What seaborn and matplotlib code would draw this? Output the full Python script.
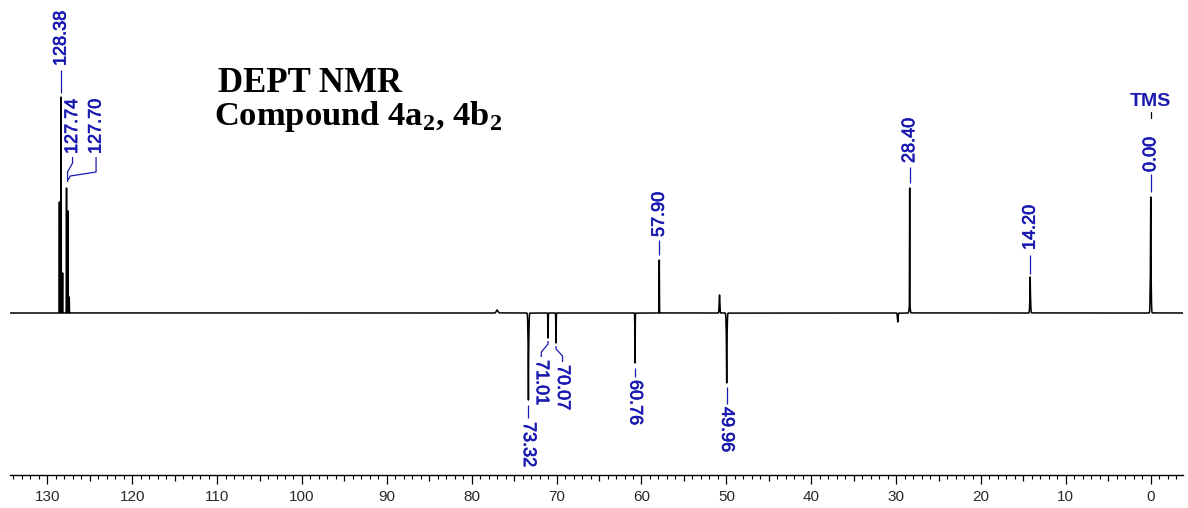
import numpy as np
import pandas as pd
import matplotlib
matplotlib.use("Agg")
import matplotlib.pyplot as plt
import matplotlib.patheffects as pe
import seaborn as sns
from matplotlib.ticker import MultipleLocator, FuncFormatter

# ---------------- data ----------------
# peak components: chemical shift (ppm), signed intensity, width (ppm)
peak_shift = [128.58, 128.38, 128.20, 127.74, 127.58, 127.42, 77.00,
              73.32, 73.32, 71.01, 70.07, 60.76, 57.90, 50.80,
              49.96, 49.96, 29.80, 28.40, 28.40, 14.20, 14.20, 0.00, 0.00]
peak_intensity = [111, 216, 40, 125, 102, 16, 3,
                  -44, -43, -25, -30, -50, 53, 18,
                  -35, -35, -9, 117, 8, 16, 20, 56, 60]
peak_width = [0.015, 0.015, 0.015, 0.015, 0.015, 0.015, 0.10,
              0.05, 0.012, 0.02, 0.02, 0.02, 0.015, 0.04,
              0.05, 0.012, 0.04, 0.012, 0.06, 0.012, 0.05, 0.012, 0.05]

# peak labels
label_text = ["128.38", "127.74", "127.70", "57.90", "28.40", "14.20", "0.00",
              "73.32", "71.01", "70.07", "60.76", "49.96"]
label_sign = [1, 1, 1, 1, 1, 1, 1, -1, -1, -1, -1, -1]

x_ticks_major = 10
title_lines = ["DEPT NMR", r"Compound 4a$_\mathbf{2}$, 4b$_\mathbf{2}$"]
ref_label = "TMS"

# ---------------- layout (annotation placement) ----------------
label_pos = [(128.38, 247), (127.03, 159), (124.26, 159), (57.90, 76),
             (28.40, 150), (14.20, 63), (0.00, 141),
             (73.32, -109), (71.80, -47), (69.30, -52), (60.76, -67), (49.96, -94)]
leaders = [
    [(128.38, 220), (128.38, 243)],
    [(127.03, 156), (127.03, 150), (127.62, 141), (127.62, 131)],
    [(124.26, 156), (124.26, 141), (127.30, 137), (127.55, 133)],
    [(57.90, 58), (57.90, 73)],
    [(28.40, 130), (28.40, 146)],
    [(14.20, 39), (14.20, 58)],
    [(0.00, 121), (0.00, 139)],
    [(73.32, -92), (73.32, -105)],
    [(71.01, -28), (71.01, -31), (71.80, -39), (71.80, -44)],
    [(70.07, -33), (70.07, -36), (69.30, -43), (69.30, -49)],
    [(60.76, -55), (60.76, -64)],
    [(49.96, -74), (49.96, -91)],
]

# ---------------- build spectrum ----------------
ppm = np.round(np.arange(-3.8, 134.4, 0.005), 3)
inten = np.zeros_like(ppm)
for c, a, w in zip(peak_shift, peak_intensity, peak_width):
    inten += a * np.exp(-0.5 * ((ppm - c) / w) ** 2)
df = pd.DataFrame({"ppm": ppm, "intensity": inten})

# ---------------- plot ----------------
sns.set_theme(style="white")
plt.rcParams["font.family"] = ["Liberation Sans", "DejaVu Sans"]
plt.rcParams["mathtext.fontset"] = "custom"
plt.rcParams["mathtext.rm"] = "Liberation Serif:bold"
plt.rcParams["mathtext.bf"] = "Liberation Serif:bold"

W, H = 1188, 508
fig = plt.figure(figsize=(W / 100, H / 100), dpi=100)
fig.patch.set_facecolor("white")
ax = fig.add_axes([10 / W, (H - 475) / H, (1183 - 10) / W, 475 / H])
ax.set_facecolor("white")

sns.lineplot(data=df, x="ppm", y="intensity", color="black", linewidth=1.1,
             estimator=None, ax=ax, legend=False)

ax.set_xlim(134.4, -3.8)
ax.set_ylim(-162, 313)
ax.set_xlabel("")
ax.set_ylabel("")
ax.set_yticks([])
for s in ["top", "left", "right"]:
    ax.spines[s].set_visible(False)
ax.spines["bottom"].set_color("black")
ax.spines["bottom"].set_linewidth(1.0)

ax.xaxis.set_major_locator(MultipleLocator(5))
ax.xaxis.set_minor_locator(MultipleLocator(1))
ax.xaxis.set_major_formatter(
    FuncFormatter(lambda v, p: f"{v:.0f}" if round(v) % x_ticks_major == 0 else ""))
ax.tick_params(axis="x", which="major", direction="out", length=6.5, width=0.9,
               color="black", labelsize=11, labelcolor="#2a2a2a", pad=4.0, bottom=True)
ax.tick_params(axis="x", which="minor", direction="out", length=3, width=0.8,
               color="black", bottom=True)
locs = ax.xaxis.get_majorticklocs()
ticks = ax.xaxis.get_major_ticks(len(locs))
for t, v in zip(ticks, locs):
    if round(v) % x_ticks_major != 0:
        t.tick1line.set_markersize(4.3)

blue = "#1a1ab0"
thick = [pe.withStroke(linewidth=0.5, foreground=blue)]
for txt, sgn, (tx, ty), pts in zip(label_text, label_sign, label_pos, leaders):
    xs, ys = zip(*pts)
    ax.plot(xs, ys, color=blue, lw=0.9, solid_capstyle="butt")
    if sgn > 0:
        ax.text(tx, ty, txt, rotation=90, ha="center", va="bottom",
                color=blue, fontsize=13, path_effects=thick)
    else:
        ax.text(tx, ty, txt, rotation=270, ha="center", va="top",
                color=blue, fontsize=13, path_effects=thick)

ax.plot([0, 0], [195, 201], color="black", lw=0.9)
ax.text(0.0, 211, ref_label, ha="center", va="center", color=blue,
        fontsize=14, fontweight="bold")

fig.text(218 / W, 1 - 92 / H, title_lines[0], family="Liberation Serif",
         fontweight="bold", fontsize=25, ha="left", va="baseline", color="black")
fig.text(214 / W, 1 - 125 / H, title_lines[1], family="Liberation Serif",
         fontweight="bold", fontsize=24.8, ha="left", va="baseline", color="black")

fig.savefig("out.png", dpi=100, facecolor="white")
